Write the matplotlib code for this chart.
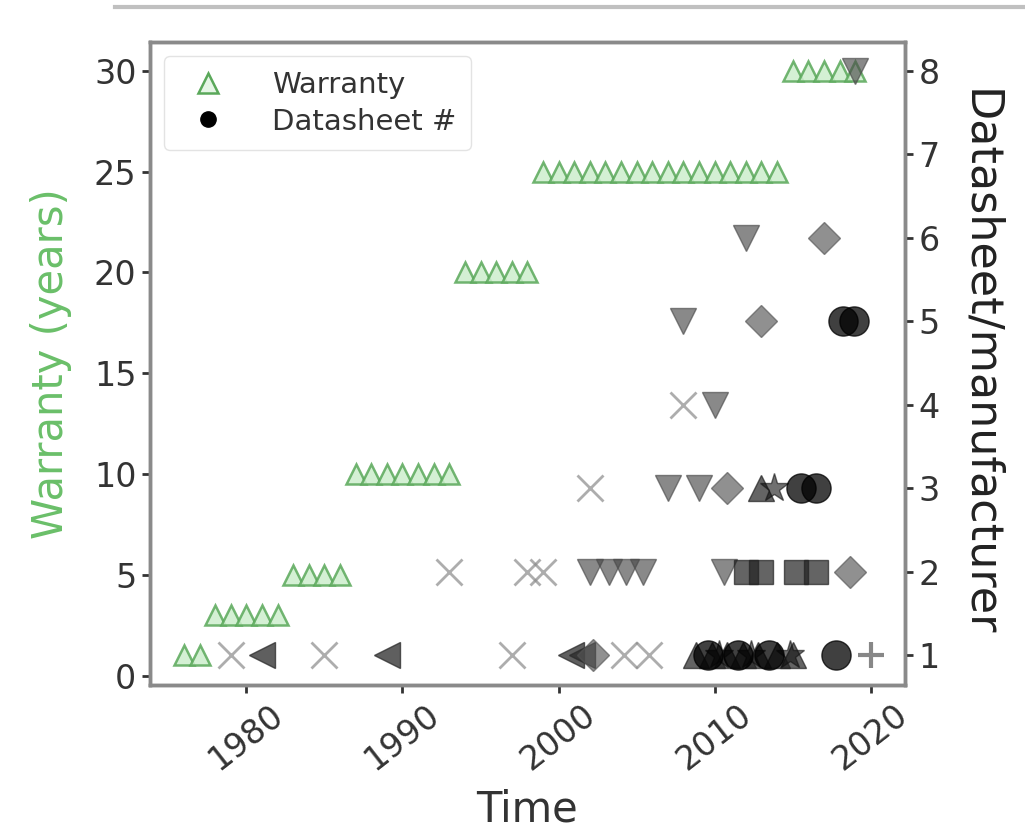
import matplotlib
matplotlib.use("Agg")
import matplotlib.pyplot as plt
from matplotlib.lines import Line2D

# ---- data ----
w_years = [1976, 1977,
           1978, 1979, 1980, 1981, 1982,
           1983, 1984, 1985, 1986,
           1987, 1988, 1989, 1990, 1991, 1992, 1993,
           1994, 1995, 1996, 1997, 1998,
           1999, 2000, 2001, 2002, 2003, 2004, 2005, 2006, 2007, 2008, 2009, 2010,
           2011, 2012, 2013, 2014,
           2015, 2016, 2017, 2018, 2019]
w_values = [1, 1,
            3, 3, 3, 3, 3,
            5, 5, 5, 5,
            10, 10, 10, 10, 10, 10, 10,
            20, 20, 20, 20, 20,
            25, 25, 25, 25, 25, 25, 25, 25, 25, 25, 25, 25,
            25, 25, 25, 25,
            30, 30, 30, 30, 30]

# datasheets per manufacturer (marker per manufacturer)
x_years = [1979, 1985, 1997, 2004.2, 2005.8, 1993, 1998, 1999, 2002, 2008]
x_counts = [1, 1, 1, 1, 1, 2, 2, 2, 3, 4]

lt_years = [1981, 1989, 2000.8, 2001.5]
lt_counts = [1, 1, 1, 1]

v_years = [2002, 2003.2, 2004.3, 2005.4, 2010.6, 2007, 2009, 2010, 2008, 2012, 2019]
v_counts = [2, 2, 2, 2, 2, 3, 3, 4, 5, 6, 8]

d_years = [2002.2, 2018.7, 2010.8, 2013, 2017]
d_counts = [1, 2, 3, 5, 6]

s_years = [2012, 2013, 2015.2, 2016.5]
s_counts = [2, 2, 2, 2]

tri_years = [2008.8, 2009.8, 2010.8, 2011.8, 2012.8, 2014, 2015, 2013]
tri_counts = [1, 1, 1, 1, 1, 1, 1, 3]

star_years = [2010.3, 2012.3, 2014.8, 2013.8]
star_counts = [1, 1, 1, 3]

o_years = [2009.6, 2011.5, 2013.5, 2017.8, 2015.5, 2016.5, 2018.2, 2018.9]
o_counts = [1, 1, 1, 1, 3, 3, 5, 5]

plus_years = [2020]
plus_counts = [1]

xticks = [1980, 1990, 2000, 2010, 2020]

# ---- figure ----
plt.rcParams['font.family'] = ['DejaVu Sans']
fig = plt.figure(figsize=(10.25, 8.34), dpi=100)
ax = fig.add_axes([0.146, 0.179, 0.737, 0.771])
ax2 = ax.twinx()

green = '#6abf69'
ax.plot(w_years, w_values, linestyle='none', marker='^', ms=15,
        mfc='#cdeecd', mec='#5aa85a', mew=1.8, alpha=0.85, label='Warranty')

def sc(xs, ys, marker, color, ms, alpha=0.6, mew=2.0, filled=True):
    if filled:
        ax2.plot(xs, ys, linestyle='none', marker=marker, ms=ms, color=color,
                 mec=color, alpha=alpha)
    else:
        ax2.plot(xs, ys, linestyle='none', marker=marker, ms=ms, color=color,
                 mew=mew, alpha=alpha)

sc(x_years, x_counts, 'x', '#8a8a8a', 19, alpha=0.7, filled=False)
sc(lt_years, lt_counts, '<', '#2a2a2a', 19, alpha=0.75)
sc(v_years, v_counts, 'v', '#4a4a4a', 19, alpha=0.65)
sc(d_years, d_counts, 'D', '#555555', 16, alpha=0.65)
sc(s_years, s_counts, 's', '#222222', 17, alpha=0.7)
sc(tri_years, tri_counts, '^', '#222222', 19, alpha=0.7)
sc(star_years, star_counts, '*', '#111111', 21, alpha=0.6)
sc(o_years, o_counts, 'o', '#000000', 21, alpha=0.75)
sc(plus_years, plus_counts, '+', '#555555', 19, alpha=0.7, mew=3, filled=False)

ax.set_xticks(xticks)
ax.set_xticklabels([str(t) for t in xticks], rotation=38)
ax.set_yticks([0, 5, 10, 15, 20, 25, 30])
ax2.set_yticks([1, 2, 3, 4, 5, 6, 7, 8])

for a in (ax, ax2):
    a.tick_params(labelsize=24, colors='#333333', width=2, length=6)
    for s in a.spines.values():
        s.set_color('#8a8a8a')
        s.set_linewidth(2.5)

ax.set_xlabel('Time', fontsize=30, color='#333333', labelpad=9)
ax.set_ylabel('Warranty (years)', fontsize=30, color=green, labelpad=16)
ax2.set_ylabel('Datasheet/manufacturer', fontsize=32, color='#222222',
               rotation=270, labelpad=44)

handles = [Line2D([], [], linestyle='none', marker='^', ms=15, mfc='#e6f6e6',
                  mec='#5aa85a', mew=1.8),
           Line2D([], [], linestyle='none', marker='o', ms=11, color='black')]
ax.legend(handles, ['Warranty', 'Datasheet #'], loc='upper left', fontsize=21,
          frameon=True, edgecolor='#dddddd', handletextpad=1.2,
          borderpad=0.5, labelspacing=0.3, labelcolor='#333333')

fig.add_artist(Line2D([115 / 1025, 1.0], [1 - 7 / 834, 1 - 7 / 834],
                      color='#c0c0c0', lw=3, transform=fig.transFigure))

fig.savefig('out.png', dpi=100)
